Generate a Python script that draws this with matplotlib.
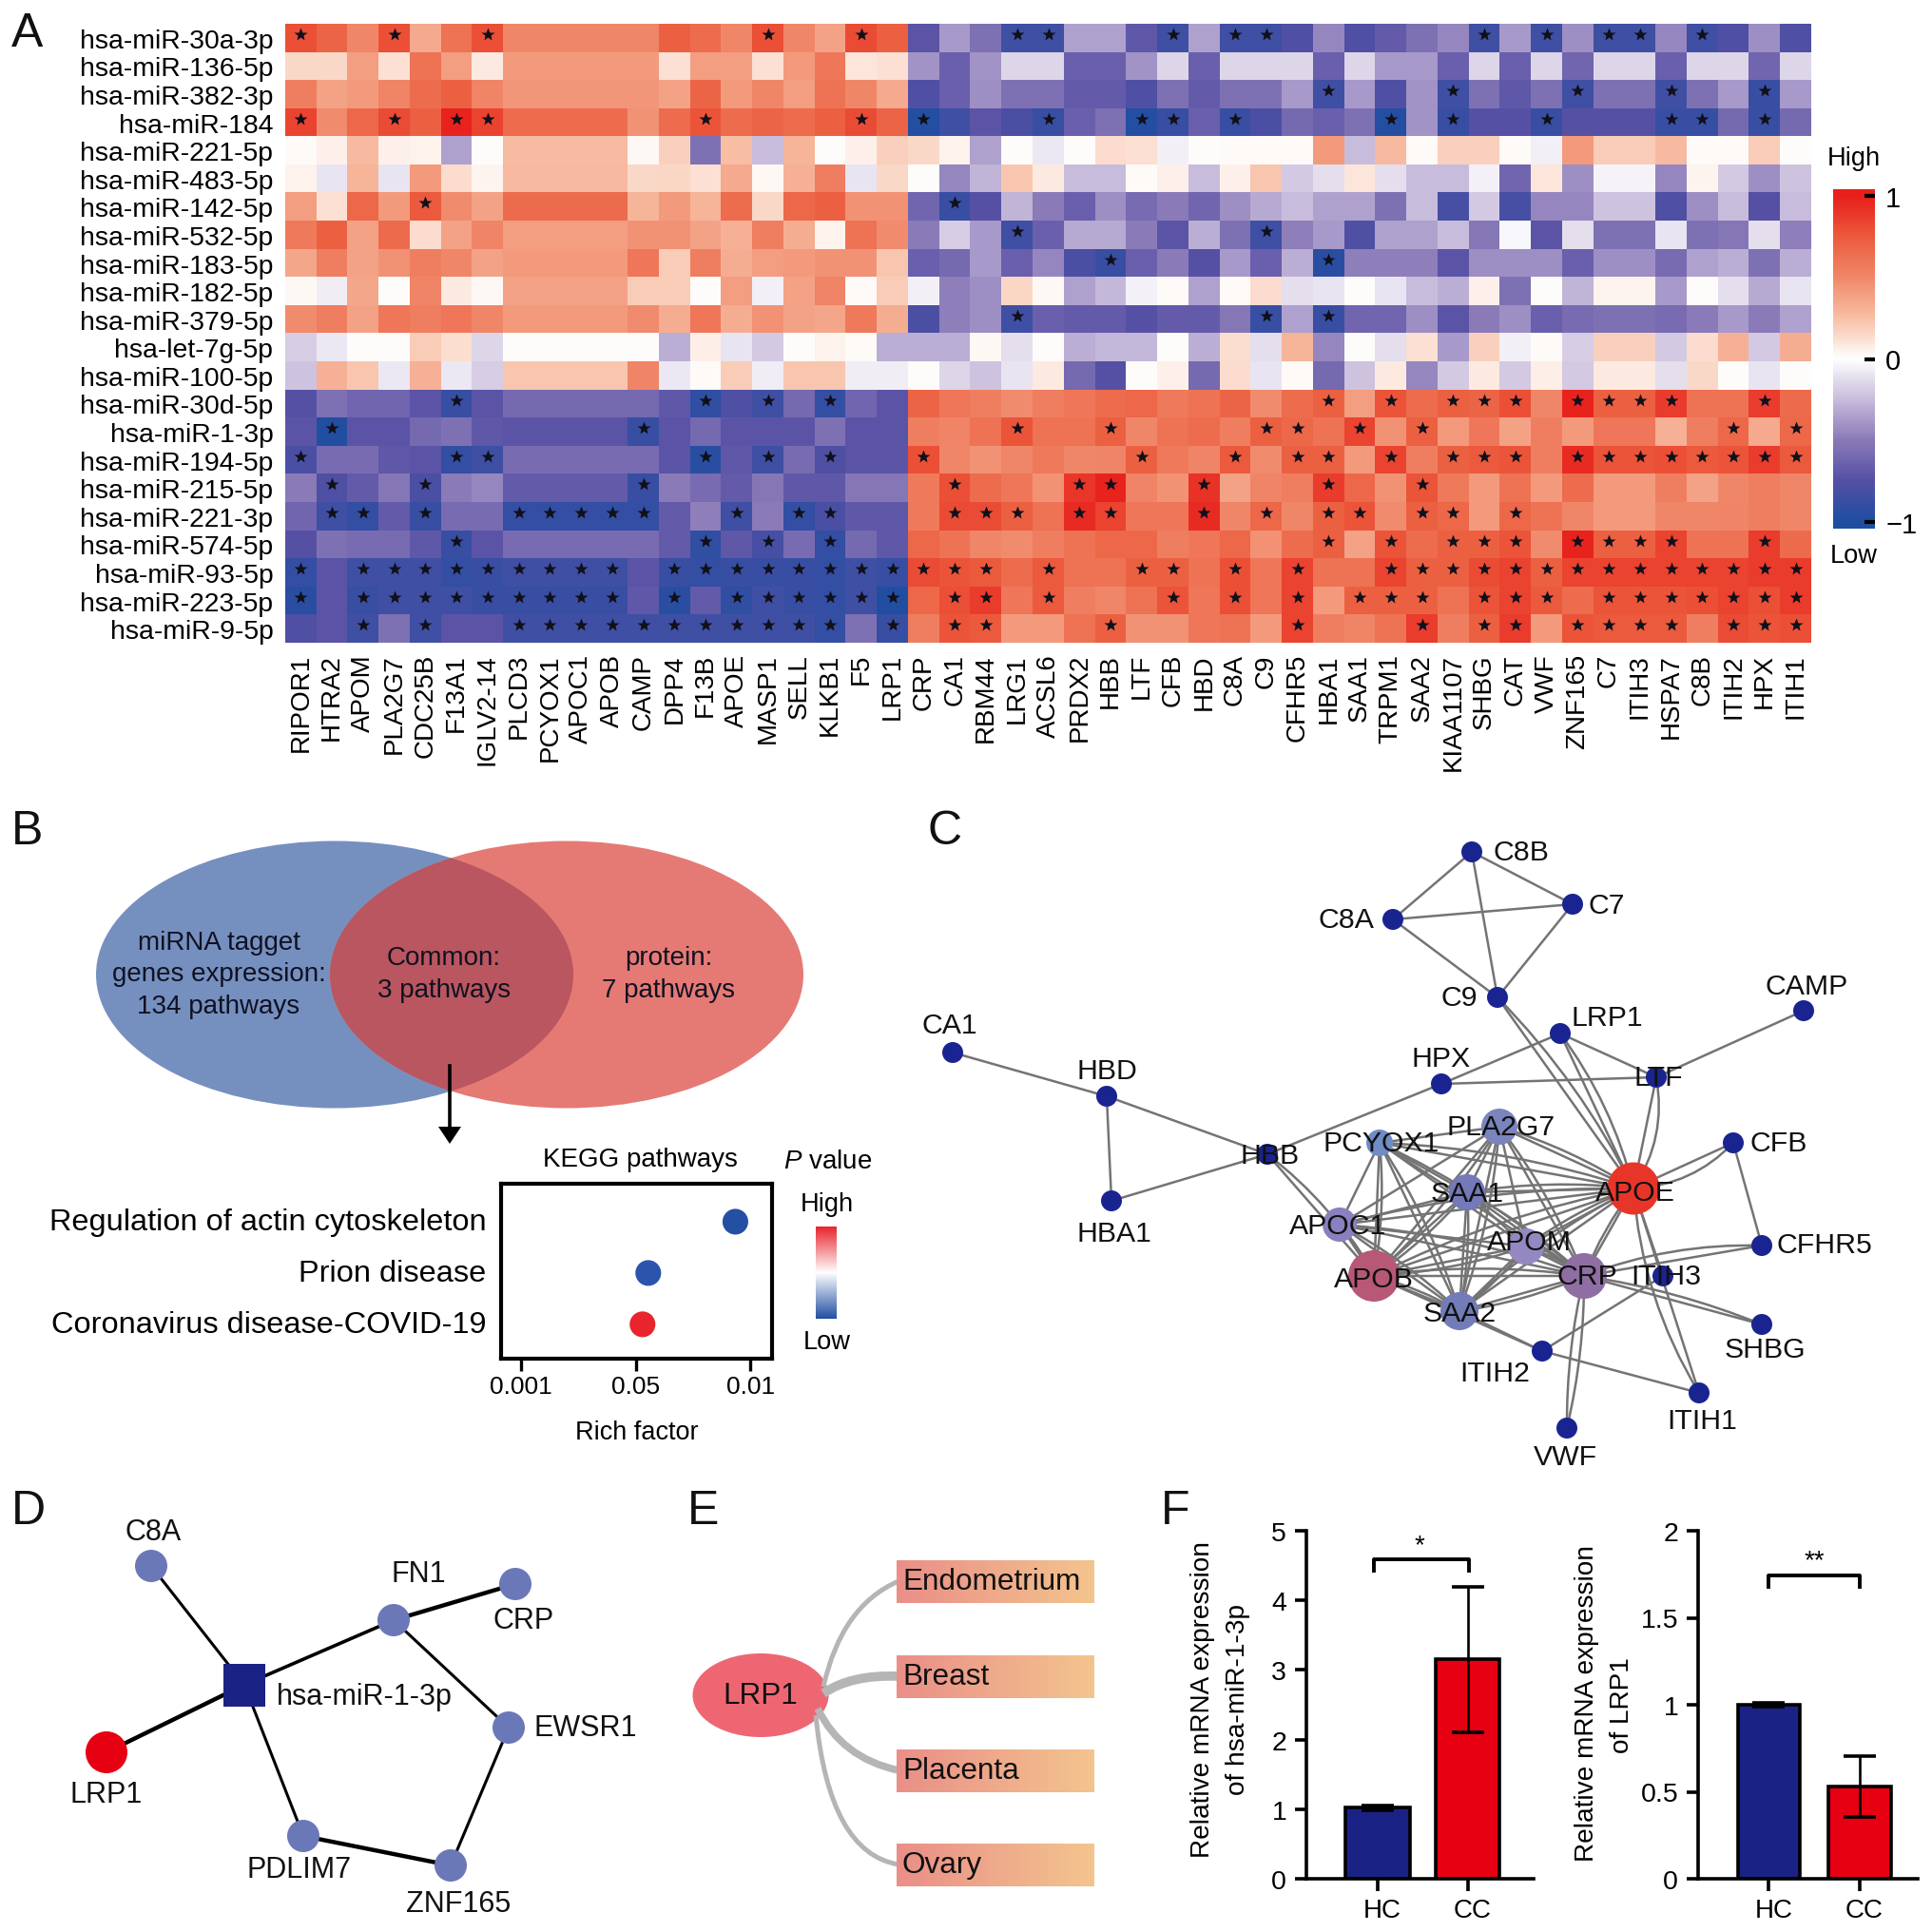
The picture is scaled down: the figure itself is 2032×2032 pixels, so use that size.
import itertools
import numpy as np
import matplotlib
matplotlib.use('Agg')
import matplotlib.pyplot as plt
from matplotlib.colors import LinearSegmentedColormap
from matplotlib.patches import Ellipse, Circle, Rectangle, PathPatch, Polygon
from matplotlib.path import Path

plt.rcParams['font.family'] = ['Liberation Sans', 'DejaVu Sans']
plt.rcParams['mathtext.fontset'] = 'custom'
plt.rcParams['mathtext.it'] = 'Liberation Sans:italic'
plt.rcParams['mathtext.rm'] = 'Liberation Sans'

W, H = 2032, 2033

# panel A
mirnas = ['hsa-miR-30a-3p', 'hsa-miR-136-5p', 'hsa-miR-382-3p', 'hsa-miR-184', 'hsa-miR-221-5p',
          'hsa-miR-483-5p', 'hsa-miR-142-5p', 'hsa-miR-532-5p', 'hsa-miR-183-5p', 'hsa-miR-182-5p',
          'hsa-miR-379-5p', 'hsa-let-7g-5p', 'hsa-miR-100-5p', 'hsa-miR-30d-5p', 'hsa-miR-1-3p',
          'hsa-miR-194-5p', 'hsa-miR-215-5p', 'hsa-miR-221-3p', 'hsa-miR-574-5p', 'hsa-miR-93-5p',
          'hsa-miR-223-5p', 'hsa-miR-9-5p']
genes = ['RIPOR1', 'HTRA2', 'APOM', 'PLA2G7', 'CDC25B', 'F13A1', 'IGLV2-14', 'PLCD3', 'PCYOX1', 'APOC1',
         'APOB', 'CAMP', 'DPP4', 'F13B', 'APOE', 'MASP1', 'SELL', 'KLKB1', 'F5', 'LRP1',
         'CRP', 'CA1', 'RBM44', 'LRG1', 'ACSL6', 'PRDX2', 'HBB', 'LTF', 'CFB', 'HBD',
         'C8A', 'C9', 'CFHR5', 'HBA1', 'SAA1', 'TRPM1', 'SAA2', 'KIAA1107', 'SHBG', 'CAT',
         'VWF', 'ZNF165', 'C7', 'ITIH3', 'HSPA7', 'C8B', 'ITIH2', 'HPX', 'ITIH1']
heat = np.array([
    [.8, .7, .5, .8, .35, .62, .8, .5, .5, .5, .5, .5, .72, .65, .5, .8, .5, .38, .82, .72,
     -.72, -.38, -.55, -.85, -.85, -.35, -.35, -.7, -.85, -.35, -.85, -.85, -.78, -.45, -.78, -.68, -.55, -.45, -.85, -.38,
     -.85, -.42, -.85, -.85, -.45, -.85, -.78, -.42, -.78],
    [.15, .15, .4, .12, .62, .4, .08, .42, .42, .42, .42, .42, .12, .4, .4, .12, .42, .6, .1, .12,
     -.4, -.65, -.4, -.15, -.15, -.65, -.65, -.4, -.15, -.65, -.15, -.15, -.15, -.65, -.15, -.38, -.38, -.65, -.15, -.65,
     -.15, -.62, -.15, -.15, -.65, -.15, -.15, -.62, -.15],
    [.55, .38, .42, .52, .65, .72, .52, .43, .43, .43, .43, .43, .38, .7, .42, .5, .4, .62, .5, .35,
     -.78, -.65, -.42, -.55, -.55, -.68, -.68, -.78, -.55, -.68, -.55, -.55, -.38, -.85, -.38, -.78, -.4, -.85, -.55, -.7,
     -.55, -.85, -.55, -.55, -.85, -.55, -.38, -.88, -.38],
    [.85, .48, .68, .82, .72, .98, .85, .65, .65, .65, .65, .45, .65, .78, .65, .7, .65, .72, .82, .7,
     -.97, -.85, -.72, -.8, -.88, -.65, -.55, -.97, -.88, -.65, -.88, -.8, -.6, -.65, -.55, -.97, -.4, -.88, -.75, -.75,
     -.88, -.75, -.75, -.75, -.88, -.88, -.6, -.88, -.6],
    [.02, .06, .28, .06, .05, -.35, .01, .27, .27, .27, .27, .03, .18, -.55, .25, -.25, .3, .01, .06, .18,
     .15, .05, -.35, .01, -.08, .01, .14, .12, -.06, .01, .02, .02, .02, .42, -.25, .28, .02, .18, .18, .02,
     -.06, .42, .2, .2, .28, .02, .02, .2, .01],
    [.05, -.1, .3, -.1, .42, .14, .04, .28, .28, .28, .28, .15, .16, .12, .35, .03, .32, .55, -.1, .15,
     .01, -.45, -.28, .22, .08, -.25, -.25, .02, .06, -.25, .06, .22, -.2, -.12, .1, -.12, -.25, -.25, -.05, -.62,
     .1, -.42, -.04, -.04, -.45, .04, -.2, -.42, -.22],
    [.4, .12, .68, .42, .75, .48, .38, .66, .66, .66, .66, .3, .42, .3, .65, .15, .68, .72, .45, .45,
     -.62, -.88, -.75, -.28, -.5, -.65, -.42, -.58, -.5, -.62, -.42, -.32, -.25, -.35, -.35, -.55, -.25, -.82, -.2, -.82,
     -.45, -.45, -.22, -.22, -.78, -.42, -.25, -.75, -.25],
    [.58, .72, .38, .66, .14, .38, .52, .4, .4, .4, .4, .45, .45, .38, .32, .55, .33, .05, .62, .48,
     -.5, -.18, -.38, -.85, -.65, -.32, -.32, -.5, -.72, -.3, -.55, -.85, -.48, -.38, -.78, -.35, -.35, -.25, -.52, -.03,
     -.72, -.12, -.55, -.55, -.1, -.55, -.52, -.12, -.48],
    [.36, .55, .38, .45, .55, .5, .38, .42, .42, .42, .42, .6, .2, .55, .33, .4, .42, .45, .45, .22,
     -.65, -.6, -.38, -.65, -.45, -.8, -.88, -.65, -.5, -.75, -.38, -.65, -.3, -.95, -.48, -.48, -.48, -.72, -.42, -.42,
     -.42, -.65, -.42, -.42, -.58, -.35, -.3, -.55, -.3],
    [.03, -.07, .36, .01, .52, .08, .03, .38, .38, .38, .38, .2, .2, .01, .4, -.06, .38, .52, .02, .2,
     -.06, -.48, -.42, .16, .03, -.35, -.26, -.05, .02, -.35, .02, .14, -.12, -.1, .01, -.1, -.25, -.3, .06, -.55,
     .01, -.28, .04, .04, -.38, .01, -.12, -.32, -.1],
    [.48, .56, .38, .6, .55, .6, .5, .42, .42, .42, .42, .48, .33, .6, .33, .45, .38, .36, .58, .33,
     -.8, -.48, -.42, -.85, -.65, -.68, -.68, -.75, -.68, -.68, -.52, -.88, -.35, -.88, -.62, -.62, -.42, -.72, -.5, -.42,
     -.65, -.58, -.55, -.55, -.58, -.5, -.38, -.5, -.35],
    [-.18, -.08, .01, .01, .2, .13, -.15, .01, .01, .01, .01, .01, -.3, .07, -.1, -.2, .01, .05, .02, -.3,
     -.3, -.3, .03, -.12, .01, -.3, -.26, -.26, .01, -.3, .13, -.12, .3, -.45, .01, -.12, .12, -.38, .18, -.06,
     .02, -.18, .18, .18, -.2, .14, .32, -.2, .33],
    [-.22, .32, .22, -.08, .32, -.08, -.18, .22, .22, .22, .22, .52, -.08, .02, .2, -.07, .22, .22, -.07, -.07,
     .01, -.15, -.22, -.1, .08, -.6, -.75, .01, .06, -.6, .14, -.1, .02, -.6, -.22, .08, -.45, -.2, .08, -.2,
     .07, -.2, .08, .08, -.12, .15, .01, -.1, .01],
    [-.75, -.55, -.62, -.62, -.72, -.88, -.72, -.6, -.6, -.6, -.6, -.6, -.7, -.92, -.78, -.85, -.6, -.9, -.62, -.72,
     .7, .6, .55, .48, .55, .6, .65, .68, .58, .62, .7, .48, .65, .72, .4, .78, .65, .72, .7, .8,
     .5, .98, .72, .72, .88, .62, .62, .88, .66],
    [-.72, -.98, -.72, -.72, -.6, -.55, -.7, -.72, -.72, -.72, -.72, -.88, -.72, -.6, -.72, -.72, -.72, -.55, -.72, -.72,
     .55, .52, .62, .78, .62, .62, .72, .5, .62, .65, .55, .72, .68, .62, .85, .45, .72, .42, .6, .38,
     .55, .42, .6, .6, .32, .55, .68, .35, .68],
    [-.8, -.58, -.58, -.7, -.72, -.9, -.85, -.58, -.58, -.58, -.58, -.58, -.72, -.95, -.7, -.85, -.58, -.78, -.72, -.72,
     .8, .5, .45, .5, .58, .5, .52, .72, .58, .52, .75, .48, .72, .72, .42, .85, .55, .72, .75, .78,
     .55, .95, .78, .78, .8, .75, .78, .88, .75],
    [-.5, -.78, -.68, -.52, -.8, -.5, -.45, -.68, -.68, -.68, -.68, -.88, -.5, -.58, -.68, -.52, -.7, -.7, -.52, -.52,
     .58, .8, .65, .6, .45, .9, .98, .52, .45, .92, .38, .52, .55, .88, .68, .45, .78, .58, .42, .62,
     .42, .65, .42, .42, .55, .38, .5, .55, .5],
    [-.62, -.85, -.9, -.68, -.88, -.58, -.58, -.9, -.9, -.9, -.9, -.9, -.68, -.48, -.85, -.5, -.9, -.8, -.7, -.7,
     .58, .82, .82, .72, .62, .95, .85, .6, .6, .95, .5, .68, .5, .72, .78, .48, .72, .68, .42, .68,
     .62, .5, .42, .42, .5, .5, .52, .55, .5],
    [-.75, -.55, -.58, -.58, -.7, -.88, -.72, -.58, -.58, -.58, -.58, -.58, -.68, -.92, -.7, -.82, -.58, -.9, -.6, -.7,
     .68, .62, .5, .48, .55, .62, .68, .68, .55, .6, .68, .46, .65, .72, .38, .78, .65, .72, .72, .78,
     .48, .98, .72, .72, .85, .62, .62, .88, .66],
    [-.9, -.72, -.85, -.85, -.85, -.9, -.88, -.85, -.85, -.85, -.85, -.72, -.88, -.9, -.88, -.88, -.88, -.9, -.85, -.88,
     .82, .78, .75, .65, .75, .62, .62, .72, .72, .62, .8, .6, .85, .62, .62, .85, .72, .72, .82, .85,
     .72, .85, .85, .85, .85, .85, .85, .88, .88],
    [-.95, -.72, -.88, -.85, -.85, -.85, -.88, -.88, -.88, -.88, -.88, -.7, -.95, -.68, -.92, -.85, -.88, -.9, -.85, -.98,
     .68, .8, .88, .6, .75, .55, .5, .62, .78, .6, .8, .6, .85, .42, .72, .72, .72, .62, .78, .85,
     .75, .65, .78, .78, .78, .8, .85, .8, .88],
    [-.78, -.72, -.85, -.55, -.85, -.72, -.72, -.85, -.85, -.85, -.85, -.85, -.85, -.85, -.85, -.85, -.85, -.9, -.55, -.88,
     .55, .78, .75, .42, .42, .62, .72, .45, .45, .6, .62, .42, .85, .55, .52, .62, .88, .55, .72, .88,
     .42, .78, .75, .75, .75, .55, .82, .78, .8],
])
star_cols = [
    [0, 3, 6, 15, 18, 23, 24, 28, 30, 31, 38, 40, 42, 43, 45],
    [],
    [33, 37, 41, 44, 47],
    [0, 3, 5, 6, 13, 18, 20, 24, 27, 28, 30, 35, 37, 40, 44, 45, 47],
    [],
    [],
    [4, 21],
    [23, 31],
    [26, 33],
    [],
    [23, 31, 33],
    [],
    [],
    [5, 13, 15, 17, 33, 35, 37, 38, 39, 41, 42, 43, 44, 47],
    [1, 11, 23, 26, 31, 32, 34, 36, 46, 48],
    [0, 5, 6, 13, 15, 17, 20, 27, 30, 32, 33, 35, 37, 38, 39, 41, 42, 43, 44, 45, 46, 47, 48],
    [1, 4, 11, 21, 25, 26, 29, 33, 36],
    [1, 2, 4, 7, 8, 9, 10, 11, 14, 16, 17, 21, 22, 23, 25, 26, 29, 31, 33, 34, 36, 37, 39],
    [5, 13, 15, 17, 33, 35, 37, 38, 39, 41, 42, 43, 44, 47],
    [0, 2, 3, 4, 5, 6, 7, 8, 9, 10, 12, 13, 14, 15, 16, 17, 18, 19, 20, 21, 22, 24, 27, 28, 30, 32,
     35, 36, 37, 38, 39, 40, 41, 42, 43, 44, 45, 46, 47, 48],
    [0, 2, 3, 4, 5, 6, 7, 8, 9, 10, 12, 14, 15, 16, 17, 18, 19, 21, 22, 24, 28, 30, 32, 34, 35, 36,
     38, 39, 40, 42, 43, 44, 45, 46, 47, 48],
    [2, 4, 7, 8, 9, 10, 11, 12, 13, 14, 15, 16, 17, 19, 21, 22, 26, 32, 36, 38, 39, 41, 42, 43, 44, 46, 47, 48],
]

# panel B
venn_left = ['miRNA tagget', 'genes expression:', '134 pathways']
venn_mid = ['Common:', '3 pathways']
venn_right = ['protein:', '7 pathways']
pathways = ['Regulation of actin cytoskeleton', 'Prion disease', 'Coronavirus disease-COVID-19']
rich_pos = [1.87, 1.11, 1.06]
rich_colors = ['#2350a3', '#2b55ad', '#e8252c']
rich_ticks = ['0.001', '0.05', '0.01']

# panel C
c_nodes = {
    'C8B': (1548, 897), 'C7': (1654, 952), 'C8A': (1465, 968), 'C9': (1575, 1050),
    'LRP1': (1641, 1088), 'CAMP': (1897, 1064), 'LTF': (1742, 1134), 'HPX': (1516, 1141),
    'CA1': (1002, 1108), 'HBD': (1164, 1154), 'HBA1': (1169, 1264), 'HBB': (1333, 1215),
    'PCYOX1': (1451, 1203), 'PLA2G7': (1577, 1186), 'CFB': (1823, 1203), 'APOE': (1718, 1251),
    'SAA1': (1543, 1255), 'APOC1': (1409, 1289), 'APOM': (1605, 1312), 'CFHR5': (1853, 1311),
    'APOB': (1445, 1343), 'CRP': (1666, 1343), 'ITIH3': (1749, 1343), 'SAA2': (1535, 1380),
    'SHBG': (1853, 1394), 'ITIH2': (1622, 1422), 'ITIH1': (1787, 1466), 'VWF': (1648, 1503),
}
c_big = {'PCYOX1': (28, '#6f8cc6'), 'PLA2G7': (38, '#7a84bd'), 'APOE': (55, '#e8352a'), 'SAA1': (38, '#7479b8'),
         'APOC1': (36, '#8880bf'), 'APOM': (38, '#9588c2'), 'APOB': (54, '#b85877'), 'CRP': (48, '#8e6ea3'),
         'SAA2': (40, '#727cb9')}
c_labels = {
    'C8B': (1600, 897), 'C7': (1690, 953), 'C8A': (1416, 968), 'C9': (1535, 1050),
    'LRP1': (1690, 1071), 'CAMP': (1900, 1038), 'LTF': (1744, 1134), 'HPX': (1516, 1114),
    'CA1': (999, 1079), 'HBD': (1164, 1127), 'HBA1': (1172, 1298), 'HBB': (1336, 1216),
    'PCYOX1': (1453, 1203), 'PLA2G7': (1579, 1186), 'CFB': (1871, 1203), 'APOE': (1720, 1255),
    'SAA1': (1543, 1256), 'APOC1': (1407, 1290), 'APOM': (1608, 1307), 'CFHR5': (1919, 1310),
    'APOB': (1445, 1346), 'CRP': (1669, 1343), 'ITIH3': (1752, 1343), 'SAA2': (1535, 1382),
    'SHBG': (1856, 1420), 'ITIH2': (1572, 1445), 'ITIH1': (1790, 1495), 'VWF': (1646, 1533),
}
c_edges = [('C8B', 'C8A', 0), ('C8B', 'C7', 0), ('C8B', 'C9', 0), ('C8A', 'C7', 0), ('C8A', 'C9', 0), ('C7', 'C9', 0),
           ('C9', 'APOE', 0), ('C9', 'APOE', .08), ('CA1', 'HBD', 0), ('HBD', 'HBB', 0), ('HBD', 'HBA1', 0),
           ('HBA1', 'HBB', 0), ('HBB', 'HPX', 0), ('HPX', 'LRP1', 0), ('HPX', 'LTF', 0), ('LRP1', 'LTF', 0),
           ('LTF', 'CAMP', 0), ('LRP1', 'APOE', 0), ('LRP1', 'APOE', .1), ('LTF', 'APOE', 0), ('LTF', 'APOE', .2),
           ('HBB', 'APOB', 0), ('HBB', 'APOB', .1), ('CFB', 'APOE', 0), ('CFB', 'APOE', .2), ('CFB', 'CFHR5', 0),
           ('APOE', 'ITIH3', 0), ('APOE', 'ITIH1', 0), ('APOE', 'ITIH1', -.12), ('CRP', 'CFHR5', 0), ('CRP', 'CFHR5', .1),
           ('CRP', 'SHBG', 0), ('CRP', 'SHBG', .06), ('CRP', 'VWF', .06), ('CRP', 'VWF', -.06), ('ITIH3', 'ITIH2', 0),
           ('ITIH2', 'ITIH1', 0), ('APOB', 'ITIH2', 0), ('SAA2', 'ITIH2', 0)]
c_hub = ['PCYOX1', 'PLA2G7', 'SAA1', 'APOC1', 'APOM', 'APOB', 'CRP', 'SAA2', 'APOE']
c_double = ['APOB', 'APOE', 'CRP', 'SAA2']

# panel D
d_nodes = {'C8A': (159, 1648), 'FN1': (414, 1705), 'CRP': (542, 1667), 'EWSR1': (535, 1818),
           'PDLIM7': (319, 1932), 'ZNF165': (474, 1963)}
d_mir = (257, 1773)
d_lrp1 = (112, 1844)
d_labels = {'C8A': (161, 1612), 'FN1': (440, 1656), 'CRP': (551, 1705), 'LRP1': (112, 1888),
            'PDLIM7': (315, 1967), 'ZNF165': (482, 2003)}
d_edges = [(d_nodes['C8A'], d_mir, 2.2), (d_mir, d_nodes['FN1'], 2.6), (d_nodes['FN1'], d_nodes['CRP'], 3.2),
           (d_nodes['FN1'], d_nodes['EWSR1'], 2.2), (d_nodes['EWSR1'], d_nodes['ZNF165'], 2.2),
           (d_nodes['PDLIM7'], d_nodes['ZNF165'], 3.2), (d_mir, d_nodes['PDLIM7'], 2.2), (d_mir, d_lrp1, 3.2)]

# panel E
tissues = ['Endometrium', 'Breast', 'Placenta', 'Ovary']
tissue_y = [1664, 1764, 1863, 1962]
tissue_lw = [3.6, 7, 5.5, 3.6]
tissue_start = [(866, 1775), (866, 1782), (860, 1798), (858, 1805)]
tissue_ctrl = [(885, 1690), (895, 1762), (885, 1850), (872, 1950)]

# panel F
groups = ['HC', 'CC']
mir_vals = [1.02, 3.15]
mir_err = [0.03, 1.05]
lrp_vals = [1.0, 0.53]
lrp_err = [0.012, 0.175]
mir_ticks = [0, 1, 2, 3, 4, 5]
lrp_ticks = [0, 0.5, 1, 1.5, 2]
lrp_ticklabels = ['0', '0.5', '1', '1.5', '2']

fig = plt.figure(figsize=(W / 100, H / 100), dpi=100, facecolor='white')


def ax_px(x0, y0, x1, y1):
    return fig.add_axes([x0 / W, 1 - y1 / H, (x1 - x0) / W, (y1 - y0) / H])


ov = ax_px(0, 0, W, H)
ov.set_xlim(0, W)
ov.set_ylim(H, 0)
ov.axis('off')

heat_cmap = LinearSegmentedColormap.from_list('heat', [
    (0, '#1f4ea1'), (.125, '#5650a5'), (.25, '#8a7ab8'), (.375, '#c8bcdc'), (.5, '#ffffff'),
    (.625, '#f8c0a6'), (.75, '#f1886a'), (.875, '#ec5c3e'), (1, '#e8201c')])

# A heatmap
ax = ax_px(300, 26, 1905, 677)
ax.imshow(heat, cmap=heat_cmap, vmin=-1, vmax=1, aspect='auto', interpolation='nearest')
for r, cols in enumerate(star_cols):
    ax.plot(cols, [r - 0.13] * len(cols), ls='none', marker='*', ms=10, mec='none', color='#10101a')
ax.set_xticks(range(len(genes)))
ax.set_xticklabels(genes, rotation=90, fontsize=20)
ax.set_yticks(range(len(mirnas)))
ax.set_yticklabels(mirnas, fontsize=20.4)
ax.tick_params(axis='x', length=0, pad=8)
ax.tick_params(axis='y', length=0, pad=9)
for s in ax.spines.values():
    s.set_visible(False)

# colorbar
cax = ax_px(1928, 200, 1972, 557)
grad = np.linspace(1.04, -1.04, 256).reshape(-1, 1)
cax.imshow(grad, cmap=heat_cmap, vmin=-1, vmax=1, aspect='auto', extent=[0, 1, -1.04, 1.04])
cax.set_xticks([])
cax.yaxis.tick_right()
cax.set_yticks([-1, 0, 1])
cax.set_yticklabels(['\u22121', '0', '1'], fontsize=21)
cax.tick_params(axis='y', direction='in', length=8, width=3, pad=8, color='black')
for s in cax.spines.values():
    s.set_visible(False)
ov.text(1950, 167, 'High', ha='center', va='center', fontsize=19.6)
ov.text(1950, 585, 'Low', ha='center', va='center', fontsize=19.6)

# B venn
left_e = Ellipse((352, 1026), 502, 281, fc='#7590bf', ec='none')
right_e = Ellipse((596, 1026), 498, 281, fc='#e57a74', ec='none')
ov.add_patch(left_e)
ov.add_patch(right_e)
both = Ellipse((352, 1026), 502, 281, fc='#b9565f', ec='none')
ov.add_patch(both)
both.set_clip_path(right_e)
for i, t in enumerate(venn_left):
    ov.text(230, 992 + i * 33.5, t, ha='center', va='center', fontsize=20, color='#111122')
for i, t in enumerate(venn_mid):
    ov.text(467, 1008 + i * 34, t, ha='center', va='center', fontsize=20, color='#111122')
for i, t in enumerate(venn_right):
    ov.text(703, 1008 + i * 34, t, ha='center', va='center', fontsize=20, color='#111122')
ov.plot([473, 473], [1122, 1190], color='black', lw=2.6)
ov.add_patch(Polygon([[461, 1186], [485, 1186], [473, 1204]], fc='black', ec='none'))

# B bubble
bax = ax_px(527, 1246, 812, 1430)
bax.scatter(rich_pos, range(len(pathways)), s=380, c=rich_colors, linewidths=0, zorder=3)
bax.set_xlim(-0.174, 2.19)
bax.set_ylim(2.67, -0.74)
bax.set_xticks(range(len(rich_ticks)))
bax.set_xticklabels(rich_ticks, fontsize=19)
bax.set_yticks(range(len(pathways)))
bax.set_yticklabels(pathways, fontsize=23.4, va='center')
bax.tick_params(axis='y', length=0, pad=11)
bax.tick_params(axis='x', length=9, width=2.4, pad=3)
for s in bax.spines.values():
    s.set_linewidth(3)
ov.text(670, 1507, 'Rich factor', ha='center', va='center', fontsize=19.5)
ov.text(673, 1220, 'KEGG pathways', ha='center', va='center', fontsize=20)
ov.text(871, 1222, '$\\mathit{P}$ value', ha='center', va='center', fontsize=20)
pcmap = LinearSegmentedColormap.from_list('p', ['#2350a3', '#ffffff', '#e8252c'])
pax = ax_px(858, 1291, 880, 1388)
pax.imshow(np.linspace(1, 0, 128).reshape(-1, 1), cmap=pcmap, aspect='auto')
pax.axis('off')
ov.text(870, 1267, 'High', ha='center', va='center', fontsize=19.6)
ov.text(870, 1412, 'Low', ha='center', va='center', fontsize=19.6)


def curve(a, b, rad, lw, color='#747474', zorder=2):
    mx, my = (a[0] + b[0]) / 2, (a[1] + b[1]) / 2
    cx = mx + rad * (b[1] - a[1])
    cy = my - rad * (b[0] - a[0])
    p = Path([a, (cx, cy), b], [Path.MOVETO, Path.CURVE3, Path.CURVE3])
    ov.add_patch(PathPatch(p, fc='none', ec=color, lw=lw, zorder=zorder))


# C network
for a, b, rad in c_edges:
    curve(c_nodes[a], c_nodes[b], rad, 1.8)
for a, b in itertools.combinations(c_hub, 2):
    curve(c_nodes[a], c_nodes[b], 0, 1.8)
    if a in c_double or b in c_double:
        curve(c_nodes[a], c_nodes[b], .07, 1.8)
for name, xy in c_nodes.items():
    d, col = c_big.get(name, (22, '#1a2490'))
    ov.add_patch(Circle(xy, d / 2, fc=col, ec='none', zorder=3))
for name, xy in c_labels.items():
    ov.text(xy[0], xy[1], name, ha='center', va='center', fontsize=21.8, color='#111111', zorder=4)

# D network
for a, b, lw in d_edges:
    curve(a, b, 0, lw, color='black')
for name, xy in d_nodes.items():
    ov.add_patch(Circle(xy, 17, fc='#6b78b8', ec='none', zorder=3))
ov.add_patch(Circle(d_lrp1, 22, fc='#e60012', ec='none', zorder=3))
ov.add_patch(Rectangle((d_mir[0] - 22, d_mir[1] - 22), 44, 45, fc='#1a2385', ec='none', zorder=3))
for name, xy in d_labels.items():
    ov.text(xy[0], xy[1], name, ha='center', va='center', fontsize=22, color='#111111')
ov.text(291, 1785, 'hsa-miR-1-3p', ha='left', va='center', fontsize=22, color='#111111')
ov.text(562, 1818, 'EWSR1', ha='left', va='center', fontsize=22, color='#111111')

# E tree
ov.add_patch(Ellipse((800, 1784), 143, 88, fc='#ef6673', ec='none', zorder=1))
for y, lw, s, c in zip(tissue_y, tissue_lw, tissue_start, tissue_ctrl):
    p = Path([s, c, (945, y)], [Path.MOVETO, Path.CURVE3, Path.CURVE3])
    ov.add_patch(PathPatch(p, fc='none', ec='#b5b5b5', lw=lw, zorder=2))
ov.text(800, 1784, 'LRP1', ha='center', va='center', fontsize=22.7, color='#111111', zorder=3)
box_cmap = LinearSegmentedColormap.from_list('box', ['#ea8f88', '#f3c48e'])
for name, y in zip(tissues, tissue_y):
    ov.imshow(np.linspace(0, 1, 64).reshape(1, -1), cmap=box_cmap, aspect='auto',
              extent=[943, 1151, y + 23, y - 22], zorder=2.5)
    ov.text(949, y, name, ha='left', va='center', fontsize=22.7, color='#111111', zorder=3)
ov.set_xlim(0, W)
ov.set_ylim(H, 0)


# F bars
def bars(rect, xlim, ylim, vals, errs, ticks, ticklabels, width):
    a = ax_px(*rect)
    a.bar([0, 1], vals, width=width, color=['#1a2385', '#e60012'], edgecolor='black', linewidth=2.6, zorder=2)
    a.errorbar([0, 1], vals, yerr=errs, fmt='none', ecolor='black', elinewidth=1.9, capsize=12, capthick=2.6, zorder=3)
    a.set_xlim(*xlim)
    a.set_ylim(*ylim)
    a.spines['top'].set_visible(False)
    a.spines['right'].set_visible(False)
    a.spines['left'].set_linewidth(2.6)
    a.spines['bottom'].set_linewidth(2.6)
    a.set_yticks(ticks)
    a.set_yticklabels(ticklabels, fontsize=20.5)
    a.set_xticks([0, 1])
    a.set_xticklabels([])
    a.tick_params(axis='both', length=9, width=2.6)
    a.tick_params(axis='y', pad=6)
    a.patch.set_alpha(0)
    return a


bars((1374, 1611, 1613, 1977), (-0.79, 1.73), (0, 5), mir_vals, mir_err, mir_ticks, [str(t) for t in mir_ticks], .71)
bars((1786, 1611, 2017, 1977), (-0.78, 1.64), (0, 2), lrp_vals, lrp_err, lrp_ticks, lrp_ticklabels, .69)
for x, t in zip([1454, 1549, 1866, 1961], groups * 2):
    ov.text(x, 2010, t, ha='center', va='center', fontsize=20)
ov.plot([1445, 1445, 1545, 1545], [1653, 1641, 1641, 1653], color='black', lw=2.8)
ov.plot([1860, 1860, 1956, 1956], [1670, 1658, 1658, 1670], color='black', lw=2.8)
ov.text(1493, 1626, '*', ha='center', va='center', fontsize=20)
ov.text(1908, 1642, '**', ha='center', va='center', fontsize=20)
ov.text(1265, 1788, 'Relative mRNA expression', rotation=90, ha='center', va='center', fontsize=20.2)
ov.text(1302, 1788, 'of hsa-miR-1-3p', rotation=90, ha='center', va='center', fontsize=20.2)
ov.text(1669, 1792, 'Relative mRNA expression', rotation=90, ha='center', va='center', fontsize=20.2)
ov.text(1706, 1794, 'of LRP1', rotation=90, ha='center', va='center', fontsize=20.2)

# panel letters
for t, x, y in [('A', 12, 36), ('B', 12, 875), ('C', 976, 875), ('D', 12, 1590), ('E', 723, 1590), ('F', 1221, 1590)]:
    ov.text(x, y, t, ha='left', va='center', fontsize=36, color='#111111')

fig.savefig('out.png', dpi=100)
